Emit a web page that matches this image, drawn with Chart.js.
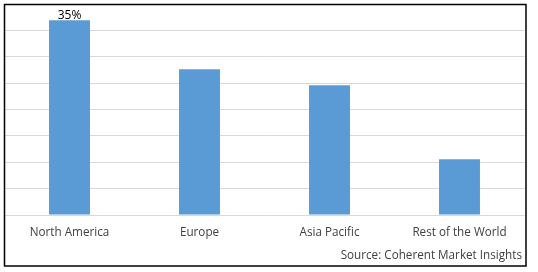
<!DOCTYPE html>
<html>
<head>
<meta charset="utf-8">
<script src="https://cdn.jsdelivr.net/npm/chart.js@4/dist/chart.umd.min.js"></script>
<style>
  html, body { margin: 0; padding: 0; background: #fff; }
  canvas { display: block; }
</style>
</head>
<body>
<canvas id="chart" width="538" height="272"></canvas>
<script>
const regions = ['North America', 'Europe', 'Asia Pacific', 'Rest of the World'];
const shares = [35, 26.2, 23.3, 10];
const labelledIndex = [0];
const sourceText = 'Source: Coherent Market Insights';

// hidden value axis, 8 gridline steps
const yMax = 37.9;
const yStep = yMax / 8;

const fontFamily = "'Open Sans', sans-serif";

// frame + source note + data label
const decorations = {
    id: 'decorations',
    afterDraw(chart) {
        const ctx = chart.ctx;
        ctx.save();
        ctx.strokeStyle = '#000';
        ctx.lineWidth = 1.5;
        ctx.strokeRect(4.5, 4.5, 521.5, 261.5);

        ctx.fillStyle = '#404040';
        ctx.font = '11.7px ' + fontFamily;
        ctx.textAlign = 'right';
        ctx.textBaseline = 'middle';
        ctx.fillText(sourceText, 522, 256);

        const meta = chart.getDatasetMeta(0);
        ctx.fillStyle = '#000';
        ctx.textAlign = 'center';
        ctx.textBaseline = 'bottom';
        ctx.font = '12px ' + fontFamily;
        labelledIndex.forEach(i => {
            const bar = meta.data[i];
            ctx.fillText(shares[i] + '%', bar.x, bar.y + 1.5);
        });
        ctx.restore();
    }
};

new Chart(document.getElementById('chart'), {
    type: 'bar',
    data: {
        labels: regions,
        datasets: [{
            data: shares,
            backgroundColor: '#5b9bd5',
            barPercentage: 0.315,
            categoryPercentage: 1
        }]
    },
    options: {
        responsive: false,
        animation: false,
        layout: {
            padding: { left: 4.5, right: 13.5, top: 4, bottom: 0 }
        },
        plugins: {
            legend: { display: false },
            tooltip: { enabled: false }
        },
        scales: {
            x: {
                grid: { display: false, drawTicks: false },
                border: { display: false },
                ticks: {
                    color: '#404040',
                    padding: 10.5,
                    maxRotation: 0,
                    font: { family: fontFamily, size: 11.7 }
                },
                afterFit: scale => { scale.height = 57; }
            },
            y: {
                min: 0,
                max: yMax,
                ticks: { display: false, stepSize: yStep },
                grid: { color: '#d9d9d9', lineWidth: 1, drawTicks: false },
                border: { display: false },
                afterFit: scale => { scale.width = 0; }
            }
        }
    },
    plugins: [decorations]
});
</script>
</body>
</html>
